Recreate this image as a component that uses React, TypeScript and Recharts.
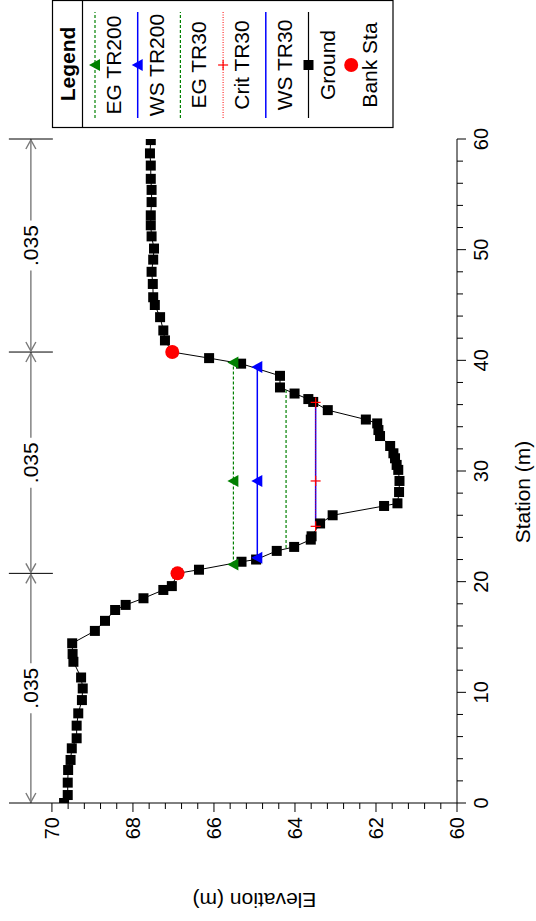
import React from "react";
import { ComposedChart, Line, XAxis, YAxis, ReferenceLine, Customized, Label } from "recharts";

// ---------- data ----------
const groundStation = [0, 0.72, 1.84, 2.98, 3.89, 4.94, 5.85, 6.99, 8.1, 9.3, 10.35, 11.34, 12.76, 13.46, 14.43, 15.55, 16.46, 17.44, 17.9, 18.5, 19.25, 19.6, 20.75, 21.08, 21.8, 22.0, 22.78, 23.14, 23.8, 24.1, 25.26, 26.0, 26.84, 27.08, 28.1, 29.1, 30.1, 30.55, 31.15, 31.6, 32.26, 33.16, 33.7, 34.3, 34.65, 35.5, 36.24, 36.5, 37.0, 37.55, 38.6, 39.7, 40.2, 40.75, 41.8, 42.7, 43.9, 45.0, 45.7, 46.9, 48.0, 49.1, 50.1, 51.2, 52.2, 53.1, 54.3, 55.4, 56.4, 57.6, 58.7, 59.9];
const groundElev = [69.70, 69.61, 69.61, 69.60, 69.54, 69.51, 69.39, 69.39, 69.35, 69.26, 69.24, 69.28, 69.47, 69.49, 69.50, 68.94, 68.69, 68.44, 68.18, 67.74, 67.25, 67.04, 66.9, 66.37, 65.32, 64.96, 64.45, 64.02, 63.61, 63.59, 63.38, 63.07, 61.80, 61.47, 61.43, 61.42, 61.45, 61.49, 61.53, 61.57, 61.65, 61.90, 61.94, 61.97, 62.25, 63.19, 63.55, 63.67, 64.01, 64.37, 64.37, 65.33, 66.12, 67.03, 67.21, 67.25, 67.33, 67.46, 67.50, 67.51, 67.54, 67.50, 67.48, 67.54, 67.56, 67.56, 67.54, 67.54, 67.56, 67.56, 67.58, 67.56];

const bankStation = [20.75, 40.75];
const bankElev = [66.9, 67.03];

const egTR200Station = [21.55, 29.1, 39.8];
const egTR200Elev = 65.52;
const wsTR200Station = [22.15, 29.1, 39.4];
const wsTR200Elev = 64.93;
const egTR30Station = [23.04, 37.3];
const egTR30Elev = 64.22;
const critTR30Station = [25.0, 29.1, 36.2];
const critTR30Elev = 63.49;
const wsTR30Station = [25.0, 36.2];
const wsTR30Elev = 63.49;

// Manning's n regions
const nBreaks = [0, 20.75, 40.75, 60];
const nValues = [".035", ".035", ".035"];
const nLineElev = 70.52;

const stationTicks = [0, 2, 4, 6, 8, 10, 12, 14, 16, 18, 20, 22, 24, 26, 28, 30, 32, 34, 36, 38, 40, 42, 44, 46, 48, 50, 52, 54, 56, 58, 60];
const stationLabels = [0, 10, 20, 30, 40, 50, 60];
const elevTicks = [60, 60.4, 60.8, 61.2, 61.6, 62, 62.4, 62.8, 63.2, 63.6, 64, 64.4, 64.8, 65.2, 65.6, 66, 66.4, 66.8, 67.2, 67.6, 68, 68.4, 68.8, 69.2, 69.6, 70];
const elevLabels = [60, 62, 64, 66, 68, 70];

const legendItems = ["EG TR200", "WS TR200", "EG TR30", "Crit TR30", "WS TR30", "Ground", "Bank Sta"];

// ---------- build series ----------
const ground = groundStation.map((x, i) => ({ x, y: groundElev[i] }));
const bank = bankStation.map((x, i) => ({ x, y: bankElev[i] }));
const flat = (st: number[], e: number) => st.map((x) => ({ x, y: e }));
const egTR200 = flat(egTR200Station, egTR200Elev);
const wsTR200 = flat(wsTR200Station, wsTR200Elev);
const egTR30 = flat(egTR30Station, egTR30Elev);
const critTR30 = flat(critTR30Station, critTR30Elev);
const wsTR30 = flat(wsTR30Station, wsTR30Elev);

const FONT = "'Liberation Sans', Arial, Helvetica, sans-serif";
const GREEN = "#008000";
const BLUE = "#0000ff";
const RED = "#ff0000";
const GRAY = "#7a7a7a";

// ---------- markers ----------
const square = (size: number) => (p: any) => {
  const { cx, cy, index } = p;
  if (cx == null || cy == null) return <g key={`s${index}`} />;
  return <rect key={`s${index}`} x={cx - size / 2} y={cy - size / 2} width={size} height={size} fill="#000" />;
};
const triangle = (color: string) => (p: any) => {
  const { cx, cy, index } = p;
  if (cx == null || cy == null) return <g key={`t${index}`} />;
  return <path key={`t${index}`} d={`M${cx},${cy - 6} L${cx - 6},${cy + 5} L${cx + 6},${cy + 5} Z`} fill={color} />;
};
const plus = (p: any) => {
  const { cx, cy, index } = p;
  if (cx == null || cy == null) return <g key={`p${index}`} />;
  return (
    <g key={`p${index}`}>
      <line x1={cx - 5} x2={cx + 5} y1={cy} y2={cy} stroke={RED} strokeWidth={1.2} />
      <line x1={cx} x2={cx} y1={cy - 5} y2={cy + 5} stroke={RED} strokeWidth={1.2} />
    </g>
  );
};
const circle = (p: any) => {
  const { cx, cy, index } = p;
  if (cx == null || cy == null) return <g key={`c${index}`} />;
  return <circle key={`c${index}`} cx={cx} cy={cy} r={7} fill={RED} />;
};

// ---------- ticks ----------
const near = (a: number, b: number) => Math.abs(a - b) < 1e-6;
const ElevTick = (p: any) => {
  const { x, y, payload } = p;
  const v = payload.value;
  const major = elevLabels.some((l) => near(l, v));
  return (
    <g>
      <line x1={x} x2={x - (major ? 9 : 6)} y1={y} y2={y} stroke="#000" strokeWidth={1} />
      {major && (
        <text x={x - 14} y={y} textAnchor="end" dominantBaseline="central" fontSize={20} fontFamily={FONT} fill="#000">
          {Math.round(v)}
        </text>
      )}
    </g>
  );
};
const StationTick = (p: any) => {
  const { x, y, payload } = p;
  const v = payload.value;
  const major = stationLabels.some((l) => near(l, v));
  return (
    <g>
      <line x1={x} x2={x} y1={y} y2={y + (major ? 9 : 6)} stroke="#000" strokeWidth={1} />
      {major && (
        <text x={x} y={y + 24} textAnchor="middle" dominantBaseline="central" fontSize={20} fontFamily={FONT} fill="#000">
          {Math.round(v)}
        </text>
      )}
    </g>
  );
};

// ---------- n-value dimension line ----------
const NSegment = (label: string) => (p: any) => {
  const { x1, y1, x2 } = p;
  const y = y1;
  const mid = (x1 + x2) / 2;
  const gap = 25;
  return (
    <g>
      <line x1={x1} x2={mid - gap} y1={y} y2={y} stroke={GRAY} strokeWidth={1.4} />
      <line x1={mid + gap} x2={x2} y1={y} y2={y} stroke={GRAY} strokeWidth={1.4} />
      <path d={`M${x1 + 10},${y - 5} L${x1 + 1},${y} L${x1 + 10},${y + 5}`} fill="none" stroke={GRAY} strokeWidth={1.4} />
      <path d={`M${x2 - 10},${y - 5} L${x2 - 1},${y} L${x2 - 10},${y + 5}`} fill="none" stroke={GRAY} strokeWidth={1.4} />
      <line x1={x2} x2={x2} y1={y - 22} y2={y + 22} stroke="#000" strokeWidth={1} />
      <text x={mid} y={y} textAnchor="middle" dominantBaseline="central" fontSize={21} fontFamily={FONT} fill="#000">
        {label}
      </text>
    </g>
  );
};

// ---------- legend ----------
const LegendBox = () => {
  const left = 793.5;
  const right = 920.5;
  const top = 52.5;
  const head = 82.5;
  const rowH = 42.7;
  const lx1 = 803;
  const lx2 = 909;
  const mx = 856;
  const rows = legendItems.map((name, i) => {
    const ly = 95 + i * rowH;
    const ty = ly + 18.5;
    let line: React.ReactNode = null;
    let marker: React.ReactNode = null;
    if (name === "EG TR200") {
      line = <line x1={lx1} x2={lx2} y1={ly} y2={ly} stroke={GREEN} strokeWidth={1.2} strokeDasharray="3 2" />;
      marker = <path d={`M${mx},${ly - 6} L${mx - 6},${ly + 5} L${mx + 6},${ly + 5} Z`} fill={GREEN} />;
    } else if (name === "WS TR200") {
      line = <line x1={lx1} x2={lx2} y1={ly} y2={ly} stroke={BLUE} strokeWidth={1.5} />;
      marker = <path d={`M${mx},${ly - 6} L${mx - 6},${ly + 5} L${mx + 6},${ly + 5} Z`} fill={BLUE} />;
    } else if (name === "EG TR30") {
      line = <line x1={lx1} x2={lx2} y1={ly} y2={ly} stroke={GREEN} strokeWidth={1.2} strokeDasharray="3 2" />;
    } else if (name === "Crit TR30") {
      line = <line x1={lx1} x2={lx2} y1={ly} y2={ly} stroke={RED} strokeWidth={1} strokeDasharray="1 1.5" />;
      marker = (
        <g>
          <line x1={mx - 5} x2={mx + 5} y1={ly} y2={ly} stroke={RED} strokeWidth={1.2} />
          <line x1={mx} x2={mx} y1={ly - 5} y2={ly + 5} stroke={RED} strokeWidth={1.2} />
        </g>
      );
    } else if (name === "WS TR30") {
      line = <line x1={lx1} x2={lx2} y1={ly} y2={ly} stroke={BLUE} strokeWidth={1.5} />;
    } else if (name === "Ground") {
      line = <line x1={lx1} x2={lx2} y1={ly} y2={ly} stroke="#000" strokeWidth={1.2} />;
      marker = <rect x={mx - 5} y={ly - 5} width={10} height={10} fill="#000" />;
    } else {
      marker = <circle cx={mx} cy={ly} r={7} fill={RED} />;
    }
    return (
      <g key={name}>
        {line}
        {marker}
        <text x={mx} y={ty} textAnchor="middle" dominantBaseline="central" fontSize={21} fontFamily={FONT} fill="#000">
          {name}
        </text>
      </g>
    );
  });
  return (
    <g>
      <rect x={left} y={top} width={right - left} height={393 - top} fill="#fff" stroke="#000" strokeWidth={1.2} />
      <line x1={left} x2={right} y1={head} y2={head} stroke="#000" strokeWidth={1.2} />
      <text x={mx + 1} y={67} textAnchor="middle" dominantBaseline="central" fontSize={21} fontWeight="bold" fontFamily={FONT} fill="#000">
        Legend
      </text>
      {rows}
    </g>
  );
};

// ---------- axis titles ----------
const ElevTitle = (p: any) => {
  const vb = p.viewBox || { x: 0, y: 9, width: 118, height: 448 };
  const cx = vb.x + 21;
  const cy = vb.y + vb.height - (vb.height * (10 / 11.06)) / 2;
  return (
    <text x={cx} y={cy} transform={`rotate(-90 ${cx} ${cy})`} textAnchor="middle" dominantBaseline="central" fontSize={21} fontFamily={FONT} fill="#000">
      Elevation (m)
    </text>
  );
};
const StationTitle = (p: any) => {
  const vb = p.viewBox || { x: 118, y: 457, width: 664, height: 79 };
  const cx = vb.x + vb.width / 2 - 21;
  const cy = vb.y + 65;
  return (
    <text x={cx} y={cy} textAnchor="middle" dominantBaseline="central" fontSize={21} fontFamily={FONT} fill="#000">
      Station (m)
    </text>
  );
};

export default function App() {
  return (
    <div style={{ position: "absolute", left: 0, top: 0, width: 536, height: 921, overflow: "hidden", background: "#fff" }}>
      <div
        style={{
          position: "absolute",
          left: 0,
          top: 0,
          width: 921,
          height: 536,
          transformOrigin: "0 0",
          transform: "translateY(921px) rotate(-90deg)",
        }}
      >
        <ComposedChart width={921} height={536} margin={{ top: 9, right: 139, bottom: 0, left: 0 }}>
          <XAxis
            type="number"
            dataKey="x"
            domain={[0, 60]}
            ticks={stationTicks}
            interval={0}
            tick={<StationTick />}
            tickLine={false}
            tickSize={0}
            tickMargin={0}
            height={79}
            axisLine={{ stroke: "#000", strokeWidth: 1 }}
            allowDataOverflow
          >
            <Label content={<StationTitle />} />
          </XAxis>
          <YAxis
            type="number"
            dataKey="y"
            domain={[60, 71.06]}
            ticks={elevTicks}
            interval={0}
            tick={<ElevTick />}
            tickLine={false}
            tickSize={0}
            tickMargin={0}
            width={118}
            axisLine={{ stroke: "#000", strokeWidth: 1 }}
            allowDataOverflow
          >
            <Label content={<ElevTitle />} />
          </YAxis>

          {nValues.map((v, i) => (
            <ReferenceLine
              key={`n${i}`}
              segment={[
                { x: nBreaks[i], y: nLineElev },
                { x: nBreaks[i + 1], y: nLineElev },
              ]}
              ifOverflow="visible"
              shape={NSegment(v)}
            />
          ))}

          <Line data={ground} dataKey="y" stroke="#000" strokeWidth={1} dot={square(10)} isAnimationActive={false} />
          <Line data={bank} dataKey="y" stroke="none" dot={circle} isAnimationActive={false} />
          <Line data={egTR30} dataKey="y" stroke={GREEN} strokeWidth={1.2} strokeDasharray="3 2" dot={false} isAnimationActive={false} />
          <Line data={wsTR30} dataKey="y" stroke={BLUE} strokeWidth={1.5} dot={false} isAnimationActive={false} />
          <Line data={critTR30} dataKey="y" stroke={RED} strokeWidth={1} strokeDasharray="1 1.5" dot={plus} isAnimationActive={false} />
          <Line data={egTR200} dataKey="y" stroke={GREEN} strokeWidth={1.2} strokeDasharray="3 2" dot={triangle(GREEN)} isAnimationActive={false} />
          <Line data={wsTR200} dataKey="y" stroke={BLUE} strokeWidth={1.5} dot={triangle(BLUE)} isAnimationActive={false} />

          <Customized component={LegendBox} />
        </ComposedChart>
      </div>
    </div>
  );
}
